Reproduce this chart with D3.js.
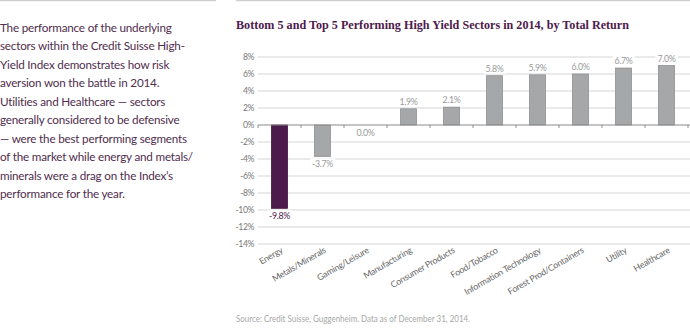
<!DOCTYPE html>
<html><head><meta charset="utf-8">
<script src="https://cdn.jsdelivr.net/npm/d3@7"></script>
<style>body{margin:0;background:#fff;}svg{display:block;}</style>
</head><body>
<svg id="c" width="690" height="329"></svg>
<script>
const categories = ["Energy","Metals/Minerals","Gaming/Leisure","Manufacturing","Consumer Products","Food/Tobacco","Information Technology","Forest Prod/Containers","Utility","Healthcare"];
const values = [-9.8,-3.7,0.0,1.9,2.1,5.8,5.9,6.0,6.7,7.0];
const yTicks = [8,6,4,2,0,-2,-4,-6,-8,-10,-12,-14];
const paragraph = ["The performance of the underlying","sectors within the Credit Suisse High-","Yield Index demonstrates how risk","aversion won the battle in 2014.","Utilities and Healthcare \u2014 sectors","generally considered to be defensive","\u2014 were the best performing segments","of the market while energy and metals/","minerals were a drag on the Index\u2019s","performance for the year."];
const title = "Bottom 5 and Top 5 Performing High Yield Sectors in 2014, by Total Return";
const source = "Source: Credit Suisse, Guggenheim. Data as of December 31, 2014.";

const svg = d3.select("#c");
const purple = "#4d1a4c";
const small = "Lato, 'Open Sans', sans-serif";
// top rules
svg.append("line").attr("x1",0).attr("x2",216).attr("y1",0.5).attr("y2",0.5).attr("stroke","#cfcfcf").attr("stroke-width",1.5);
svg.append("line").attr("x1",236).attr("x2",690).attr("y1",0.5).attr("y2",0.5).attr("stroke","#cfcfcf").attr("stroke-width",1.5);

// paragraph
const pg = svg.append("g").attr("font-family","Lato, 'Open Sans', sans-serif").attr("font-size",11.7).attr("letter-spacing",-0.2).attr("fill","#4f2d4e");
pg.selectAll("text").data(paragraph).join("text").attr("x",0).attr("y",(d,i)=>31.5+i*18.55).text(d=>d);

// title
svg.append("text").attr("x",236).attr("y",29).attr("font-family","'Liberation Serif', serif").attr("font-weight","bold").attr("font-size",12.5).attr("fill",purple)
  .attr("textLength",393).attr("lengthAdjust","spacingAndGlyphs").text(title);

const x = d3.scaleBand().domain(categories).range([258,688]).paddingInner(0.63).paddingOuter(0.315);
const y = d3.scaleLinear().domain([-14,8]).range([244,57]);

// gridlines
svg.append("g").selectAll("line").data(yTicks.filter(d=>d!==0)).join("line")
  .attr("x1",258).attr("x2",690).attr("y1",d=>y(d)).attr("y2",d=>y(d)).attr("stroke","#e3e3e3").attr("stroke-width",1.5);

// y labels
svg.append("g").attr("font-family",small).attr("font-size",8.6).attr("letter-spacing",-0.4).attr("fill","#777").attr("text-anchor","end")
  .selectAll("text").data(yTicks).join("text").attr("x",254).attr("y",d=>y(d)+3.2).text(d=>d+"%");

// bars
svg.append("g").selectAll("rect").data(values).join("rect")
  .attr("x",(d,i)=>x(categories[i])).attr("width",x.bandwidth())
  .attr("y",d=>y(Math.max(0,d))).attr("height",d=>Math.abs(y(d)-y(0)))
  .attr("fill",(d,i)=>i===0?purple:"#a6a7a9").attr("stroke",(d,i)=>i===0?"#3a1139":"#8e8f91").attr("stroke-width",0.8);

// zero axis
svg.append("line").attr("x1",258).attr("x2",690).attr("y1",y(0)).attr("y2",y(0)).attr("stroke","#8a8a8a").attr("stroke-width",1);
const tickPos = d3.range(categories.length+1).map(i=>258+i*x.step());
svg.append("g").selectAll("line").data(tickPos).join("line")
  .attr("x1",d=>d).attr("x2",d=>d).attr("y1",y(0)).attr("y2",y(0)+3).attr("stroke","#777").attr("stroke-width",0.8);

// value labels
const vl = svg.append("g").attr("font-family",small).attr("font-size",8.8).attr("letter-spacing",-0.3).attr("text-anchor","middle");
values.forEach((v,i)=>{
  const cx = x(categories[i])+x.bandwidth()/2;
  const ty = v>0 ? y(v)-4 : y(v)+11;
  const t = vl.append("text").attr("x",cx).attr("y",ty).attr("fill",i===0?purple:"#9a9a9a").text(v.toFixed(1)+"%");
  const bb = t.node().getBBox();
  vl.insert("rect","text").attr("x",bb.x-2).attr("y",bb.y).attr("width",bb.width+4).attr("height",bb.height).attr("fill","#fff");
});

// category labels
svg.append("g").attr("font-family",small).attr("font-size",8.8).attr("letter-spacing",-0.2).attr("fill","#666").attr("text-anchor","end")
  .selectAll("text").data(categories).join("text")
  .attr("transform",d=>`translate(${x(d)+x.bandwidth()/2+4},${252}) rotate(-30)`).text(d=>d);

// source
svg.append("text").attr("x",236).attr("y",322).attr("font-family",small).attr("font-size",8.8).attr("fill","#a8a8a8")
  .attr("textLength",234).attr("lengthAdjust","spacingAndGlyphs").text(source);
</script>
</body></html>
